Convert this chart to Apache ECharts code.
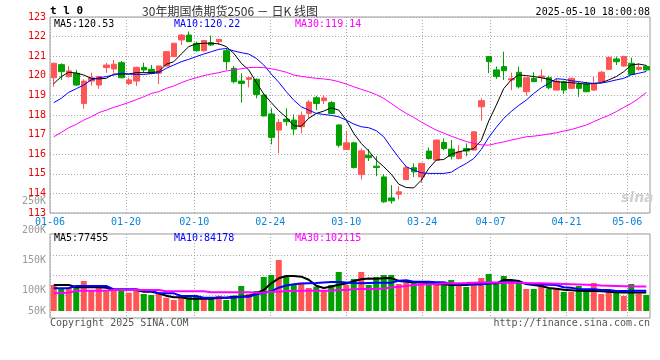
<!DOCTYPE html>
<html><head><meta charset="utf-8">
<script src="https://cdn.jsdelivr.net/npm/echarts@6/dist/echarts.min.js"></script>
<style>html,body{margin:0;padding:0;background:#fff}#c{width:660px;height:360px}</style>
</head><body><div id="c"></div>
<script>
const dates = ['01-06','01-07','01-08','01-09','01-10','01-13','01-14','01-15','01-16','01-17','01-20','01-21','01-22','01-23','01-24','01-27',
'02-05','02-06','02-07','02-10','02-11','02-12','02-13','02-14','02-17','02-18','02-19','02-20','02-21','02-24','02-25','02-26','02-27','02-28',
'03-03','03-04','03-05','03-06','03-07','03-10','03-11','03-12','03-13','03-14','03-17','03-18','03-19','03-20','03-21','03-24','03-25','03-26','03-27','03-28','03-31',
'04-01','04-02','04-03','04-07','04-08','04-09','04-10','04-11','04-14','04-15','04-16','04-17','04-18','04-21','04-22','04-23','04-24','04-25','04-28','04-29','04-30',
'05-06','05-07','05-08','05-09'];
const tickLabels = ['01-06','01-20','02-10','02-24','03-10','03-24','04-07','04-21','05-06'];
const opens = [119.90,120.57,119.96,120.13,118.59,119.73,119.53,120.42,120.35,120.67,
 119.61,119.73,120.43,120.33,120.13,120.50,120.98,121.83,122.08,121.66,
 121.28,121.69,121.74,121.28,120.38,119.73,119.82,119.82,119.02,118.05,
 117.23,117.79,117.74,117.40,118.08,118.88,118.73,118.63,117.49,116.24,
 116.58,114.96,115.95,115.39,114.84,113.77,113.96,114.71,115.31,114.84,
 116.16,115.70,116.60,116.26,115.78,116.29,116.21,118.42,120.98,120.30,
 120.47,119.79,120.18,119.19,119.87,119.92,119.90,119.27,119.70,119.36,
 119.56,119.58,119.27,119.70,120.33,120.86,120.50,120.64,120.33,120.47];
const closes = [120.64,120.21,120.25,119.53,119.73,119.90,119.96,120.55,120.59,119.90,
 119.79,120.43,120.30,120.13,120.50,121.23,121.66,122.08,121.74,121.28,
 121.80,121.57,121.86,120.72,119.70,119.61,119.90,119.05,117.95,116.86,
 117.62,117.66,117.28,117.98,118.66,118.59,118.87,118.08,116.46,116.58,
 115.32,116.17,115.82,115.32,113.57,113.62,114.08,115.31,115.10,115.53,
 115.78,116.72,116.29,115.90,116.12,116.16,117.14,118.73,120.72,119.96,
 120.26,119.85,119.44,119.90,119.70,119.99,119.39,119.73,119.27,119.87,
 119.36,119.19,119.61,120.18,120.94,120.72,120.98,120.07,120.43,120.30];
const lows = [119.44,119.79,119.90,119.48,118.32,119.50,119.34,120.16,120.16,119.88,
 119.53,119.48,120.16,120.08,119.58,120.48,120.96,121.57,121.72,121.23,
 121.23,121.52,121.57,120.30,119.61,118.63,119.41,118.85,117.93,116.50,
 116.04,117.45,116.97,117.06,117.83,118.25,118.56,118.05,116.34,116.21,
 115.27,114.71,115.65,114.88,113.52,113.48,113.69,114.67,114.84,114.54,
 115.73,115.66,116.21,115.73,115.73,115.90,116.19,117.71,120.13,119.84,
 119.79,119.27,119.36,118.98,119.68,119.70,119.31,119.25,119.07,119.34,
 118.93,119.16,119.24,119.66,120.30,120.55,120.47,120.04,120.26,120.26];
const highs = [120.66,120.64,120.50,120.30,119.82,120.16,120.00,120.67,120.81,120.76,
 119.90,120.47,120.67,120.55,120.52,121.27,121.68,122.14,122.26,121.74,
 121.82,122.05,121.88,121.40,120.50,120.13,119.95,119.87,119.05,118.34,
 117.79,118.34,118.03,118.17,118.76,118.98,119.02,118.71,117.52,117.20,
 116.63,116.29,116.26,115.90,114.98,114.42,114.37,115.44,115.53,115.56,
 116.34,116.75,116.80,116.72,116.46,116.55,117.18,118.85,121.01,120.47,
 121.23,120.16,120.47,119.93,120.18,120.33,120.00,119.87,119.75,119.90,
 119.70,119.70,119.96,120.25,120.98,120.98,121.03,120.93,120.64,120.55];
const ma5 = [119.60,119.96,120.18,120.14,120.04,119.87,119.84,119.87,120.09,120.09,
 120.09,120.16,120.16,120.16,120.21,120.59,120.72,121.11,121.49,121.63,
 121.66,121.66,121.63,121.49,121.15,120.64,120.30,119.67,119.07,118.63,
 118.22,117.88,117.45,117.43,117.83,118.08,118.20,118.37,118.25,117.74,
 117.06,116.55,116.16,115.70,115.36,114.98,114.47,114.30,114.28,114.67,
 115.27,115.70,115.73,116.00,116.12,116.21,116.29,116.70,117.70,118.50,
 119.35,119.79,120.04,120.01,119.96,119.90,119.82,119.70,119.67,119.65,
 119.61,119.58,119.61,119.65,119.79,119.96,120.21,120.55,120.60,120.53];
const ma10 = [118.63,118.85,119.16,119.34,119.53,119.79,119.90,119.96,120.04,120.13,
 120.09,120.07,120.07,120.11,120.16,120.38,120.55,120.72,120.84,120.98,
 121.11,121.23,121.35,121.39,121.27,121.18,121.11,120.89,120.55,120.09,
 119.67,119.19,118.76,118.42,118.25,118.08,118.03,117.98,117.91,117.74,
 117.54,117.40,117.35,117.20,116.89,116.34,115.83,115.36,115.19,115.05,
 115.02,115.02,115.02,115.08,115.32,115.53,115.78,116.24,116.86,117.37,
 117.83,118.18,118.49,118.76,119.10,119.39,119.61,119.85,119.82,119.75,
 119.70,119.65,119.61,119.63,119.70,119.79,119.87,120.05,120.13,120.22];
const ma30 = [116.89,117.11,117.35,117.52,117.74,117.91,118.12,118.25,118.39,118.51,
 118.64,118.78,118.93,119.10,119.19,119.36,119.48,119.65,119.79,119.90,
 120.01,120.09,120.16,120.25,120.30,120.36,120.42,120.43,120.42,120.36,
 120.28,120.18,120.04,119.97,119.92,119.87,119.84,119.79,119.70,119.58,
 119.44,119.31,119.19,119.04,118.85,118.59,118.32,118.08,117.88,117.64,
 117.43,117.23,117.08,116.92,116.78,116.65,116.55,116.48,116.46,116.55,
 116.63,116.72,116.80,116.89,116.92,116.97,117.03,117.09,117.18,117.26,
 117.37,117.49,117.66,117.83,117.98,118.17,118.39,118.59,118.85,119.14];
const volumes = [108200,94400,96900,101100,124800,87400,108200,82000,87400,84400,
 76100,87400,70700,66600,70700,55300,45800,57000,59500,59500,
 52800,57000,63600,45800,63600,104000,70700,83200,141400,149800,
 212200,144400,108200,117700,95700,101100,87400,108200,162200,108200,
 133100,162200,108200,141400,149800,149800,112300,116500,121900,116500,
 112300,108200,112300,129000,112300,99800,108200,137300,153900,117700,
 145600,129000,117700,91500,91500,108200,91500,91500,79000,79000,
 104000,87400,116500,70700,79000,74900,62400,112300,73600,66600];
const vma5 = [108000,108000,108000,98500,98500,98500,98500,97000,87400,87400,
 87400,87400,80400,80400,73500,63700,56900,56900,51000,51000,
 51000,51000,55500,55500,59600,59600,62400,73500,87400,115000,
 136000,145600,145600,142800,130000,105000,96000,102000,109000,114000,
 125000,132000,135000,134000,136000,137000,125000,122000,119400,119400,
 115000,111000,111000,108200,108200,108200,111000,111000,115000,115000,
 129000,129000,125000,112000,108000,104000,96000,93000,88000,86000,
 84000,83000,83000,82000,80000,78000,77000,77000,77000,77455];
const vma10 = [95000,95000,95000,104000,104000,104000,104000,104000,90300,90300,
 90300,90300,84400,84400,73500,73500,73500,62400,62400,62400,
 55300,55300,55300,55300,55300,59600,59600,69300,76000,82000,
 97000,106000,111000,114000,115000,116000,119000,121000,121000,119000,
 116000,115500,116500,117500,117700,118000,126000,128000,122000,121900,
 121900,119400,119400,112300,112300,112300,111000,111000,115200,115200,
 119400,119400,118500,114000,112000,110000,109400,108200,99000,97000,
 91000,90300,90300,87400,87400,83000,83000,84000,84000,84178];
const vma30 = [74000,75000,76000,84400,84400,84400,84400,84400,87400,87400,
 87400,87400,87400,87400,87400,82000,82000,82000,82000,82000,
 82000,78000,78000,78000,78000,78000,78000,76100,76100,80000,
 80400,83200,83200,84400,84400,84400,84400,84400,87400,87400,
 91000,91500,91500,91500,94000,98000,101000,104000,108000,110000,
 111000,112000,114000,115000,115200,116000,118000,119000,119400,119000,
 118000,117700,117000,116000,115500,115000,114000,113000,112000,111000,
 110000,109000,108000,106000,105000,104000,103000,102500,102300,102115];
const volTickValues = [50000,100000,150000,200000,250000];
const volTickLabels = ['50K','100K','150K','200K','250K'];

const MONO = '"DejaVu Sans Mono", monospace';
const UP = '#ff5555', DOWN = '#00a000';
const N = dates.length;
const tickIdx = tickLabels.map(t => dates.indexOf(t));
const dotted = {type: [1, 2], color: '#aaa', width: 1};
const last = a => a[a.length - 1];

const chart = echarts.init(document.getElementById('c'), null, {renderer: 'canvas'});
const txt = (x, y, text, fill, extra) => Object.assign({
  type: 'text', x: x, y: y, silent: true,
  style: Object.assign({text: text, fill: fill, font: '10px ' + MONO, verticalAlign: 'middle', align: 'left'}, extra || {})
});

chart.setOption({
  animation: false,
  backgroundColor: '#fff',
  grid: [
    {left: 50, top: 17, width: 600, height: 196, show: true, borderColor: '#999', borderWidth: 1},
    {left: 50, top: 234, width: 600, height: 84, show: true, borderColor: '#999', borderWidth: 1},
    {left: 50, top: 190, width: 600, height: 130, show: false}
  ],
  xAxis: [
    {type: 'category', gridIndex: 0, data: dates, boundaryGap: true, show: false},
    {type: 'category', gridIndex: 1, data: dates, boundaryGap: true, show: false},
    {type: 'value', gridIndex: 0, min: 0, max: N - 1, position: 'bottom',
      axisLine: {show: false}, axisTick: {show: false, customValues: tickIdx},
      axisLabel: {customValues: tickIdx, formatter: v => dates[v], color: '#0a84d8', fontFamily: MONO, fontSize: 10, margin: 4},
      splitLine: {show: true, lineStyle: dotted}},
    {type: 'value', gridIndex: 1, min: 0, max: N - 1, position: 'bottom',
      axisLine: {show: false}, axisTick: {show: false, customValues: tickIdx},
      axisLabel: {show: false}, splitLine: {show: true, lineStyle: dotted}},
    {type: 'value', gridIndex: 2, min: 0, max: 1, show: false}
  ],
  yAxis: [
    {type: 'value', gridIndex: 0, min: 113, max: 123, interval: 1,
      axisLine: {show: false}, axisTick: {show: false},
      axisLabel: {color: '#ee0000', fontFamily: MONO, fontSize: 10, margin: 4},
      splitLine: {show: true, lineStyle: dotted}},
    {type: 'value', gridIndex: 1, min: -29120, max: 320320,
      axisLine: {show: false}, axisTick: {show: false, customValues: [63648, 146848, 230048]},
      axisLabel: {show: false}, splitLine: {show: true, lineStyle: dotted}},
    {type: 'value', gridIndex: 2, min: 49400, max: 268500,
      axisLine: {show: false}, axisTick: {show: false, customValues: volTickValues},
      splitLine: {show: false},
      axisLabel: {customValues: volTickValues, color: '#999', fontFamily: MONO, fontSize: 10, margin: 4,
        formatter: v => {
          const s = volTickLabels[volTickValues.indexOf(v)];
          return v === volTickValues[0] ? '{lift|' + s + '}' : s;
        },
        rich: {lift: {color: '#999', fontFamily: MONO, fontSize: 10, padding: [0, 0, 17, 0]}}}}
  ],
  series: [
    {type: 'candlestick', xAxisIndex: 0, yAxisIndex: 0, barWidth: 6,
      data: opens.map((o, i) => [o, closes[i], lows[i], highs[i]]),
      itemStyle: {color: UP, color0: DOWN, borderColor: UP, borderColor0: DOWN, borderWidth: 1}},
    {type: 'line', xAxisIndex: 0, yAxisIndex: 0, data: ma5, symbol: 'none', silent: true, lineStyle: {color: '#000', width: 1}, z: 4},
    {type: 'line', xAxisIndex: 0, yAxisIndex: 0, data: ma10, symbol: 'none', silent: true, lineStyle: {color: '#0000ff', width: 1}, z: 4},
    {type: 'line', xAxisIndex: 0, yAxisIndex: 0, data: ma30, symbol: 'none', silent: true, lineStyle: {color: '#ff00ff', width: 1}, z: 4},
    {type: 'bar', xAxisIndex: 1, yAxisIndex: 1, barWidth: 6,
      data: volumes.map((v, i) => ({value: v, itemStyle: {color: closes[i] >= opens[i] ? UP : DOWN}}))},
    {type: 'line', xAxisIndex: 1, yAxisIndex: 1, data: vma5, symbol: 'none', silent: true, lineStyle: {color: '#000', width: 2}, z: 4},
    {type: 'line', xAxisIndex: 1, yAxisIndex: 1, data: vma10, symbol: 'none', silent: true, lineStyle: {color: '#0000ff', width: 2}, z: 4},
    {type: 'line', xAxisIndex: 1, yAxisIndex: 1, data: vma30, symbol: 'none', silent: true, lineStyle: {color: '#ff00ff', width: 2}, z: 4}
  ],
  graphic: [
    txt(50, 11, 't l 0', '#000', {font: 'bold 11px ' + MONO}),
    txt(230, 11, '30年期国债期货2506 － 日K 线图', '#333', {font: '12px "Noto Sans CJK SC"', align: 'center'}),
    txt(650, 12, '2025-05-10 18:00:08', '#000', {align: 'right'}),
    txt(54, 24, 'MA5:' + last(ma5).toFixed(2), '#000'),
    txt(174, 24, 'MA10:' + last(ma10).toFixed(2), '#0000ff'),
    txt(295, 24, 'MA30:' + last(ma30).toFixed(2), '#ff00ff'),
    txt(54, 238, 'MA5:' + last(vma5), '#000'),
    txt(174, 238, 'MA10:' + last(vma10), '#0000ff'),
    txt(295, 238, 'MA30:' + last(vma30), '#ff00ff'),
    txt(621, 198, 'sina', '#d0d0d0', {font: 'italic bold 14px "DejaVu Sans"'}),
    txt(50, 323, 'Copyright 2025 SINA.COM', '#555'),
    txt(650, 323, 'http://finance.sina.com.cn', '#555', {align: 'right'})
  ]
});
</script></body></html>
